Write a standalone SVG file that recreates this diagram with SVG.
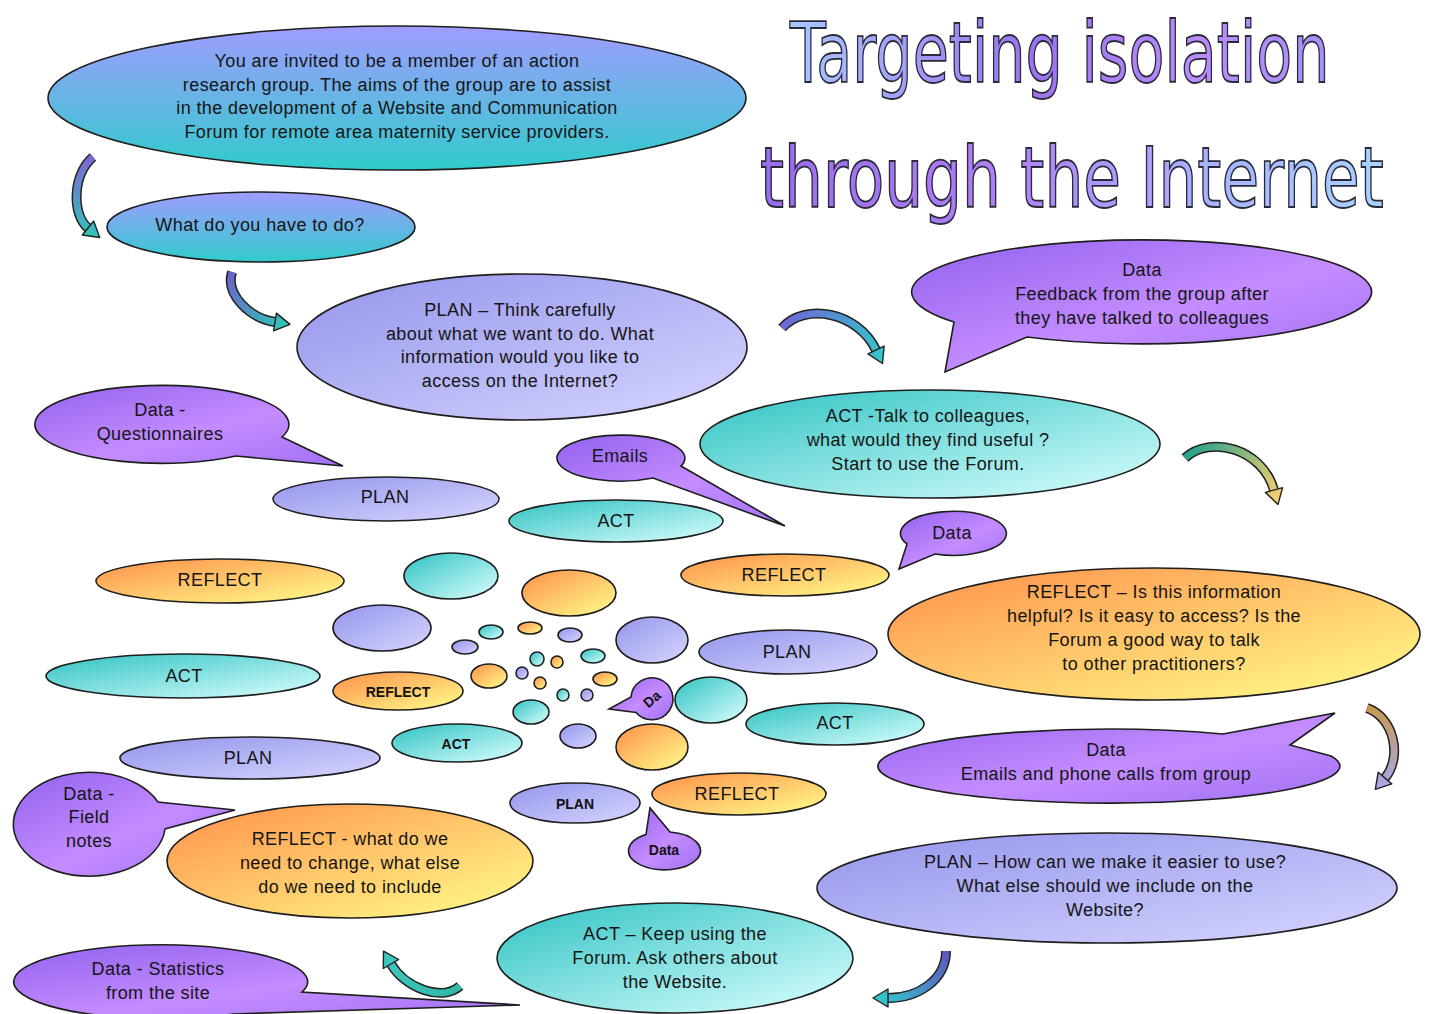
<svg xmlns="http://www.w3.org/2000/svg" width="1430" height="1014" viewBox="0 0 1430 1014">
<defs>
<linearGradient id="gIntro" x1="0" y1="0" x2="0" y2="1"><stop offset="0" stop-color="#a09cff"/><stop offset="1" stop-color="#30cccc"/></linearGradient>
<linearGradient id="gPlan" x1="0" y1="0" x2="1" y2="1"><stop offset="0" stop-color="#9494ec"/><stop offset="1" stop-color="#d6d6ff"/></linearGradient>
<linearGradient id="gAct" x1="0" y1="0" x2="1" y2="1"><stop offset="0" stop-color="#2fc2c2"/><stop offset="1" stop-color="#dcffff"/></linearGradient>
<linearGradient id="gRef" x1="0" y1="0" x2="1" y2="1"><stop offset="0" stop-color="#ff8f4a"/><stop offset="1" stop-color="#ffff8c"/></linearGradient>
<linearGradient id="gData" x1="0" y1="0" x2="1" y2="1"><stop offset="0" stop-color="#9262ee"/><stop offset="0.55" stop-color="#c48cff"/><stop offset="1" stop-color="#a070f4"/></linearGradient>
<linearGradient id="gTitle1" x1="0" y1="0" x2="1" y2="0"><stop offset="0" stop-color="#a6c8ff"/><stop offset="0.45" stop-color="#9c72ee"/><stop offset="0.75" stop-color="#b88cfa"/><stop offset="1" stop-color="#a890f8"/></linearGradient>
<linearGradient id="gTitle2" x1="0" y1="0" x2="1" y2="0"><stop offset="0" stop-color="#9a6cee"/><stop offset="0.4" stop-color="#b080f6"/><stop offset="0.7" stop-color="#a8b0ff"/><stop offset="1" stop-color="#a8d4ff"/></linearGradient>
<linearGradient id="aA" gradientUnits="userSpaceOnUse" x1="93" y1="157" x2="99" y2="238"><stop offset="0" stop-color="#7a68d4"/><stop offset="1" stop-color="#30c8b8"/></linearGradient>
<linearGradient id="aB" gradientUnits="userSpaceOnUse" x1="232" y1="272" x2="290" y2="325"><stop offset="0" stop-color="#6a64c8"/><stop offset="1" stop-color="#30c8b8"/></linearGradient>
<linearGradient id="aC" gradientUnits="userSpaceOnUse" x1="782" y1="320" x2="886" y2="364"><stop offset="0" stop-color="#6e66d6"/><stop offset="1" stop-color="#30cccc"/></linearGradient>
<linearGradient id="aD" gradientUnits="userSpaceOnUse" x1="1185" y1="450" x2="1280" y2="505"><stop offset="0" stop-color="#20a08c"/><stop offset="1" stop-color="#ffd070"/></linearGradient>
<linearGradient id="aE" gradientUnits="userSpaceOnUse" x1="1367" y1="708" x2="1376" y2="790"><stop offset="0" stop-color="#c89850"/><stop offset="1" stop-color="#a8a8ec"/></linearGradient>
<linearGradient id="aF" gradientUnits="userSpaceOnUse" x1="460" y1="986" x2="383" y2="951"><stop offset="0" stop-color="#30b8a8"/><stop offset="1" stop-color="#40c8c0"/></linearGradient>
<linearGradient id="aG" gradientUnits="userSpaceOnUse" x1="946" y1="951" x2="873" y2="998"><stop offset="0" stop-color="#6058c0"/><stop offset="1" stop-color="#30cccc"/></linearGradient>
<style>
.b{stroke:#1e1e1e;stroke-width:1.6}
.intro{fill:url(#gIntro)}
.plan{fill:url(#gPlan)}
.act{fill:url(#gAct)}
.ref{fill:url(#gRef)}
.data{fill:url(#gData)}
.t{font-family:"Liberation Sans",Arial,sans-serif;font-size:18px;fill:#151515;text-anchor:middle;letter-spacing:0.4px}
.s{font-family:"Liberation Sans",Arial,sans-serif;font-size:14px;font-weight:bold;fill:#111;text-anchor:middle}
.title{font-family:"DejaVu Sans","Liberation Sans",sans-serif;stroke:#2a2a3a;stroke-width:1.8}
.ao{fill:none;stroke:#222;stroke-width:10}
.ah{stroke:#222;stroke-width:1.4;stroke-linejoin:round}
</style>
</defs>
<rect width="1430" height="1014" fill="#ffffff"/>

<g id="title">
<text class="title" fill="url(#gTitle1)" font-size="84" transform="translate(790 82) scale(0.7 1)" x="0" y="0">Targeting isolation</text>
<text class="title" fill="url(#gTitle2)" font-size="84" transform="translate(760 207) scale(0.73 1)" x="0" y="0">through the Internet</text>
</g>

<g id="connectors">
<path class="ao" d="M93 157 C72 175 72 215 88 228"/><path d="M93 157 C72 175 72 215 88 228" fill="none" stroke="url(#aA)" stroke-width="7"/>
<polygon class="ah" fill="url(#aA)" points="99.7,237.5 82.3,235 93.7,221"/>
<path class="ao" d="M232 272 C225 295 250 318 275 322"/><path d="M232 272 C225 295 250 318 275 322" fill="none" stroke="url(#aB)" stroke-width="7"/>
<polygon class="ah" fill="url(#aB)" points="290,324.4 273.6,330.9 276.4,313.1"/>
<path class="ao" d="M782 328 C805 302 858 312 876 350"/><path d="M782 328 C805 302 858 312 876 350" fill="none" stroke="url(#aC)" stroke-width="7"/>
<polygon class="ah" fill="url(#aC)" points="882.5,363.5 867.9,353.9 884.1,346.1"/>
<path class="ao" d="M1185 458 C1210 435 1262 448 1274 490"/><path d="M1185 458 C1210 435 1262 448 1274 490" fill="none" stroke="url(#aD)" stroke-width="7"/>
<polygon class="ah" fill="url(#aD)" points="1278,504.4 1265.4,492.4 1282.6,487.6"/>
<path class="ao" d="M1367 708 C1395 718 1402 758 1385 778"/><path d="M1367 708 C1395 718 1402 758 1385 778" fill="none" stroke="url(#aE)" stroke-width="7"/>
<polygon class="ah" fill="url(#aE)" points="1375.3,789.4 1378.2,772.2 1391.8,783.9"/>
<path class="ao" d="M460 986 C442 1002 405 988 391 964"/><path d="M460 986 C442 1002 405 988 391 964" fill="none" stroke="url(#aF)" stroke-width="7"/>
<polygon class="ah" fill="url(#aF)" points="383.5,951.1 398.7,959.5 383.3,968.5"/>
<path class="ao" d="M946 951 C946 980 918 998 888 998"/><path d="M946 951 C946 980 918 998 888 998" fill="none" stroke="url(#aG)" stroke-width="7"/>
<polygon class="ah" fill="url(#aG)" points="873,998 888,989 888,1007"/>
</g>

<g id="intro">
<ellipse class="b intro" cx="397" cy="98" rx="349" ry="72"/>
<text class="t" x="397" y="67">You are invited to be a member of an action</text>
<text class="t" x="397" y="91">research group. The aims of the group are to assist</text>
<text class="t" x="397" y="114">in the development of a Website and Communication</text>
<text class="t" x="397" y="138">Forum for remote area maternity service providers.</text>
</g>
<g id="what">
<ellipse class="b intro" cx="261" cy="227" rx="154" ry="35"/>
<text class="t" x="260" y="231">What do you have to do?</text>
</g>
<g id="plan-main">
<ellipse class="b plan" cx="522" cy="347" rx="225" ry="73"/>
<text class="t" x="520" y="316">PLAN – Think carefully</text>
<text class="t" x="520" y="340">about what we want to do. What</text>
<text class="t" x="520" y="363">information would you like to</text>
<text class="t" x="520" y="387">access on the Internet?</text>
</g>
<g id="data-feedback">
<path class="b data" d="M954 322 A230 52 0 1 1 1027 337 L945 372 Z"/>
<text class="t" x="1142" y="276">Data</text>
<text class="t" x="1142" y="300">Feedback from the group after</text>
<text class="t" x="1142" y="324">they have talked to colleagues</text>
</g>
<g id="act-main">
<ellipse class="b act" cx="930" cy="444" rx="230" ry="54"/>
<text class="t" x="928" y="422">ACT -Talk to colleagues,</text>
<text class="t" x="928" y="446">what would they find useful ?</text>
<text class="t" x="928" y="470">Start to use the Forum.</text>
</g>
<g id="data-questionnaires">
<path class="b data" d="M236 456 A127 39 0 1 1 282 437 L343 466 Z"/>
<text class="t" x="160" y="416">Data -</text>
<text class="t" x="160" y="440">Questionnaires</text>
</g>
<g id="plan-1">
<ellipse class="b plan" cx="386" cy="499" rx="113" ry="22"/>
<text class="t" x="385" y="503">PLAN</text>
</g>
<g id="act-1">
<ellipse class="b act" cx="616" cy="521" rx="107" ry="21"/>
<text class="t" x="616" y="527">ACT</text>
</g>
<g id="data-emails">
<path class="b data" d="M653 478 A64 23 0 1 1 681 466 L785 526 Z"/>
<text class="t" x="620" y="462">Emails</text>
</g>
<g id="data-small">
<path class="b data" d="M907 544 A53 22 0 1 1 935 554 L899 569 Z"/>
<text class="t" x="952" y="539">Data</text>
</g>
<g id="reflect-1">
<ellipse class="b ref" cx="220" cy="581" rx="124" ry="22"/>
<text class="t" x="220" y="586">REFLECT</text>
</g>
<g id="reflect-2">
<ellipse class="b ref" cx="785" cy="575" rx="104" ry="21"/>
<text class="t" x="784" y="581">REFLECT</text>
</g>
<g id="reflect-main">
<ellipse class="b ref" cx="1154" cy="634" rx="266" ry="66"/>
<text class="t" x="1154" y="598">REFLECT – Is this information</text>
<text class="t" x="1154" y="622">helpful? Is it easy to access? Is the</text>
<text class="t" x="1154" y="646">Forum a good way to talk</text>
<text class="t" x="1154" y="670">to other practitioners?</text>
</g>
<g id="act-2">
<ellipse class="b act" cx="183" cy="676" rx="137" ry="22"/>
<text class="t" x="184" y="682">ACT</text>
</g>
<g id="plan-2">
<ellipse class="b plan" cx="788" cy="652" rx="89" ry="22"/>
<text class="t" x="787" y="658">PLAN</text>
</g>
<g id="act-3">
<ellipse class="b act" cx="835" cy="724" rx="89" ry="21"/>
<text class="t" x="835" y="729">ACT</text>
</g>
<g id="data-phone">
<path class="b data" d="M1331 756 A231 37 0 1 1 1223 734 L1335 713 L1290 745 Z"/>
<text class="t" x="1106" y="756">Data</text>
<text class="t" x="1106" y="780">Emails and phone calls from group</text>
</g>
<g id="plan-3">
<ellipse class="b plan" cx="250" cy="758" rx="130" ry="21"/>
<text class="t" x="248" y="764">PLAN</text>
</g>
<g id="data-field">
<path class="b data" d="M165 829 A76 52 0 1 1 158 802 L235 810 Z"/>
<text class="t" x="89" y="800">Data -</text>
<text class="t" x="89" y="823">Field</text>
<text class="t" x="89" y="847">notes</text>
</g>
<g id="reflect-left">
<ellipse class="b ref" cx="350" cy="861" rx="183" ry="57"/>
<text class="t" x="350" y="845">REFLECT - what do we</text>
<text class="t" x="350" y="869">need to change, what else</text>
<text class="t" x="350" y="893">do we need to include</text>
</g>
<g id="plan-bottom">
<ellipse class="b plan" cx="1107" cy="888" rx="290" ry="55"/>
<text class="t" x="1105" y="868">PLAN – How can we make it easier to use?</text>
<text class="t" x="1105" y="892">What else should we include on the</text>
<text class="t" x="1105" y="916">Website?</text>
</g>
<g id="act-bottom">
<ellipse class="b act" cx="675" cy="958" rx="178" ry="55"/>
<text class="t" x="675" y="940">ACT – Keep using the</text>
<text class="t" x="675" y="964">Forum. Ask others about</text>
<text class="t" x="675" y="988">the Website.</text>
</g>
<g id="data-statistics">
<path class="b data" d="M233 1014 A147 37 0 1 1 302 992 L520 1005 Z"/>
<text class="t" x="158" y="975">Data - Statistics</text>
<text class="t" x="158" y="999">from the site</text>
</g>

<g id="spiral">
<ellipse class="b act" cx="451" cy="576" rx="47" ry="23"/>
<ellipse class="b ref" cx="569" cy="593" rx="47" ry="23"/>
<ellipse class="b plan" cx="382" cy="628" rx="49" ry="23"/>
<ellipse class="b plan" cx="652" cy="640" rx="36" ry="23"/>
<ellipse class="b act" cx="491" cy="632" rx="12" ry="7"/>
<ellipse class="b ref" cx="530" cy="628" rx="12" ry="6"/>
<ellipse class="b plan" cx="570" cy="635" rx="12" ry="7"/>
<ellipse class="b plan" cx="465" cy="647" rx="13" ry="7"/>
<ellipse class="b act" cx="593" cy="656" rx="12" ry="7"/>
<circle class="b act" cx="537" cy="659" r="7"/>
<circle class="b ref" cx="557" cy="662" r="6"/>
<ellipse class="b ref" cx="489" cy="676" rx="18" ry="12"/>
<circle class="b plan" cx="522" cy="673" r="6"/>
<circle class="b ref" cx="540" cy="683" r="6"/>
<ellipse class="b ref" cx="605" cy="679" rx="12" ry="7"/>
<circle class="b act" cx="563" cy="695" r="6"/>
<circle class="b plan" cx="587" cy="695" r="6"/>
<ellipse class="b act" cx="531" cy="712" rx="18" ry="12"/>
<ellipse class="b act" cx="711" cy="700" rx="36" ry="23"/>
<ellipse class="b ref" cx="652" cy="747" rx="36" ry="23"/>
<ellipse class="b plan" cx="578" cy="736" rx="18" ry="12"/>
</g>
<g id="reflect-small">
<ellipse class="b ref" cx="398" cy="691" rx="65" ry="19"/>
<text class="s" x="398" y="697">REFLECT</text>
</g>
<g id="act-small">
<ellipse class="b act" cx="457" cy="743" rx="65" ry="19"/>
<text class="s" x="456" y="749">ACT</text>
</g>
<g id="plan-small">
<ellipse class="b plan" cx="575" cy="803" rx="65" ry="20"/>
<text class="s" x="575" y="809">PLAN</text>
</g>
<g id="reflect-3">
<ellipse class="b ref" cx="739" cy="794" rx="87" ry="21"/>
<text class="t" x="737" y="800">REFLECT</text>
</g>
<g id="data-da">
<path class="b data" d="M631 697 A21 21 0 1 1 636 712.5 L609 709 Z"/>
<text class="s" x="652" y="704" font-size="12" transform="rotate(-40 652 699)">Da</text>
</g>
<g id="data-tiny">
<path class="b data" d="M670 832 A36 19 0 1 1 646 834.5 L650 808 Z"/>
<text class="s" x="664" y="855" font-size="12">Data</text>
</g>
</svg>
